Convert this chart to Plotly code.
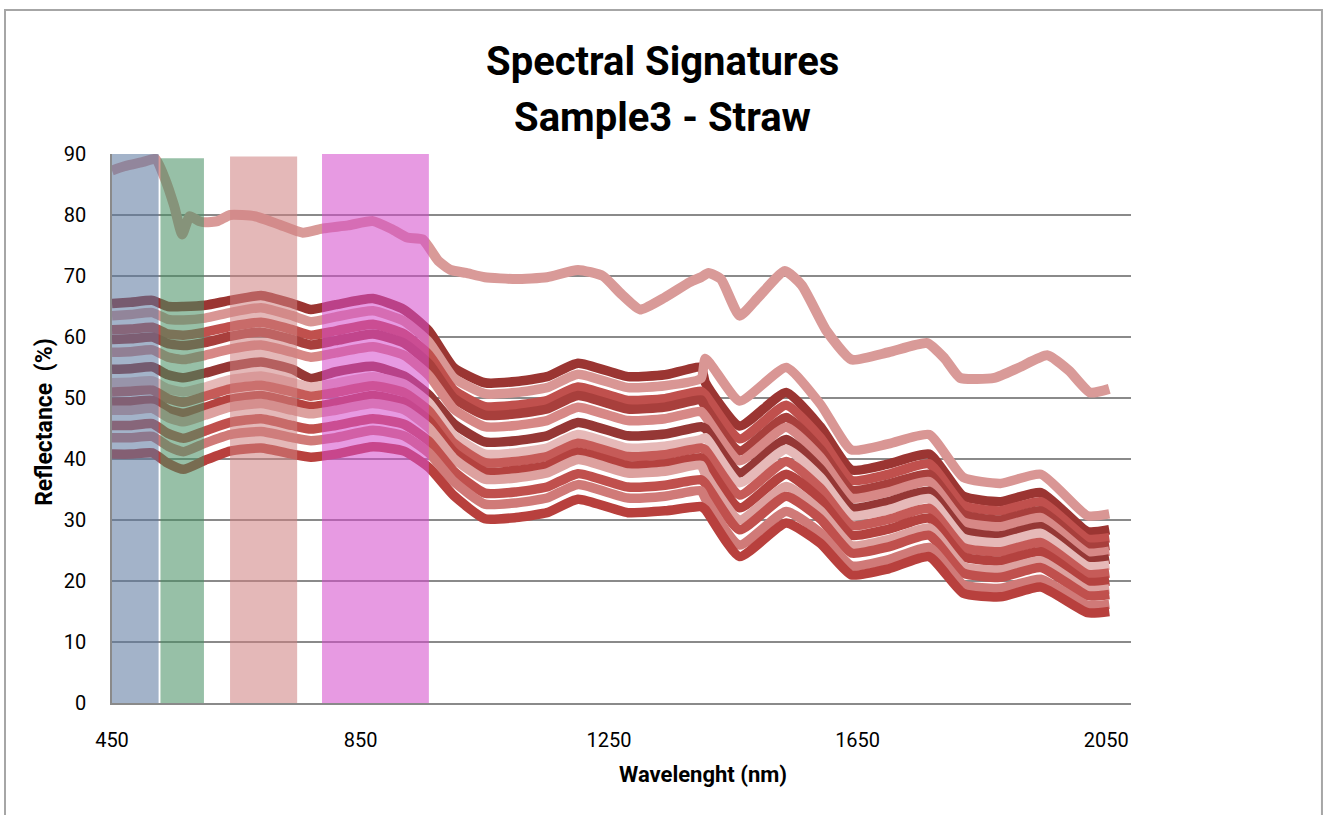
import plotly.graph_objects as go

# ---------------- data ----------------
wavelength = [450, 480, 515, 540, 565, 600, 640, 690, 740, 770, 810, 870, 920, 960,
              1000, 1050, 1100, 1150, 1200, 1280, 1340, 1398,
              1405, 1460, 1535, 1590, 1640, 1700, 1765, 1820, 1880, 1945, 2020, 2055]

s01 = [65.5, 65.7, 66.0, 65.0, 65.0, 65.2, 66.0, 66.8, 65.5, 64.5, 65.3, 66.3, 64.5, 61.0,
       55.0, 52.5, 52.7, 53.5, 55.7, 53.5, 53.8, 55.0,
       52.5, 45.4, 50.9, 45.3, 38.2, 39.2, 40.8, 33.9, 33.0, 34.5, 28.1, 28.4]
s02 = [63.5, 63.7, 64.0, 62.9, 62.8, 63.1, 64.0, 64.8, 63.5, 62.5, 63.3, 64.3, 62.6, 59.2,
       53.3, 50.7, 50.9, 51.7, 53.9, 51.7, 52.0, 53.2,
       56.5, 49.5, 55.0, 49.0, 41.5, 42.5, 44.0, 37.0, 36.0, 37.5, 30.7, 31.0]
s03 = [61.2, 61.3, 61.6, 60.5, 60.3, 60.8, 61.7, 62.4, 61.2, 60.3, 61.0, 62.1, 60.5, 57.1,
       51.3, 48.6, 48.8, 49.6, 51.8, 49.6, 49.9, 51.1,
       50.5, 43.3, 48.8, 43.5, 36.5, 37.5, 39.2, 32.4, 31.5, 33.0, 26.9, 27.1]
s04 = [59.6, 59.7, 60.0, 58.9, 58.6, 59.1, 60.1, 60.8, 59.6, 58.7, 59.4, 60.5, 59.0, 55.6,
       50.0, 47.2, 47.4, 48.2, 50.4, 48.2, 48.5, 49.7,
       48.5, 41.3, 46.8, 41.6, 34.9, 35.9, 37.5, 30.9, 30.0, 31.5, 25.6, 25.8]
s05 = [57.5, 57.6, 57.9, 56.7, 56.3, 57.0, 58.0, 58.7, 57.5, 56.7, 57.4, 58.4, 57.0, 53.7,
       48.2, 45.3, 45.5, 46.3, 48.5, 46.3, 46.6, 47.8,
       47.0, 39.7, 45.2, 40.3, 33.6, 34.6, 36.3, 29.7, 28.9, 30.4, 24.6, 24.9]
s06 = [54.7, 54.8, 55.1, 53.8, 53.3, 54.1, 55.2, 55.9, 54.7, 53.2, 54.3, 55.2, 53.6, 50.5,
       45.8, 42.8, 43.0, 43.8, 46.0, 43.8, 44.1, 45.3,
       45.0, 37.7, 43.2, 38.4, 32.0, 33.0, 34.7, 28.2, 27.4, 28.9, 23.3, 23.6]
s07 = [52.5, 52.6, 52.8, 51.5, 51.0, 51.8, 53.0, 53.6, 52.5, 51.8, 52.4, 53.5, 52.3, 49.2,
       43.9, 40.8, 41.0, 41.8, 44.0, 41.8, 42.1, 43.2,
       43.5, 36.1, 41.6, 37.0, 30.7, 31.7, 33.5, 27.0, 26.3, 27.8, 22.4, 22.6]
s08 = [51.0, 51.1, 51.3, 49.9, 49.3, 50.3, 51.5, 52.1, 51.0, 50.3, 50.9, 52.0, 50.9, 47.9,
       42.6, 39.4, 39.6, 40.4, 42.6, 40.4, 40.7, 41.8,
       41.5, 34.1, 39.6, 35.2, 29.1, 30.1, 31.9, 25.5, 24.8, 26.3, 21.1, 21.3]
s09 = [49.3, 49.4, 49.6, 48.1, 47.5, 48.5, 49.8, 50.4, 49.3, 48.6, 49.2, 50.4, 49.3, 46.3,
       41.2, 37.9, 38.1, 38.9, 41.1, 38.9, 39.2, 40.2,
       39.5, 32.0, 37.5, 33.4, 27.5, 28.5, 30.3, 24.0, 23.3, 24.8, 19.8, 20.0]
s10 = [48.0, 48.0, 48.3, 46.8, 46.1, 47.2, 48.5, 49.1, 48.0, 47.4, 48.0, 49.1, 48.1, 45.1,
       40.1, 36.7, 36.9, 37.7, 39.9, 37.7, 38.0, 39.0,
       37.5, 30.0, 35.5, 31.5, 25.8, 26.8, 28.7, 22.4, 21.8, 23.3, 18.5, 18.7]
s11 = [45.5, 45.5, 45.8, 44.2, 43.4, 44.6, 46.0, 46.6, 45.5, 44.9, 45.5, 46.6, 45.7, 42.9,
       38.0, 34.4, 34.6, 35.4, 37.6, 35.4, 35.7, 36.6,
       36.0, 28.4, 33.9, 30.2, 24.6, 25.6, 27.5, 21.3, 20.6, 22.2, 17.6, 17.8]
s12 = [43.5, 43.5, 43.7, 42.1, 41.2, 42.6, 44.0, 44.5, 43.5, 43.0, 43.5, 44.7, 43.8, 41.0,
       36.3, 32.6, 32.8, 33.6, 35.8, 33.6, 33.9, 34.8,
       33.5, 25.9, 31.4, 27.9, 22.5, 23.5, 25.5, 19.4, 18.8, 20.3, 16.0, 16.2]
s13 = [40.8, 40.8, 41.0, 39.3, 38.3, 39.8, 41.3, 41.8, 40.8, 40.3, 40.8, 42.0, 41.3, 38.6,
       34.0, 30.2, 30.4, 31.2, 33.4, 31.2, 31.5, 32.2,
       31.7, 24.0, 29.5, 26.2, 21.0, 22.0, 24.0, 18.0, 17.4, 19.0, 14.8, 15.0]

wavelength_top = [450, 470, 500, 520, 535, 550, 563, 575, 590, 600,
                  620, 640, 680, 720, 757, 790, 830, 870, 900, 925,
                  950, 975, 995, 1020, 1050, 1100, 1150, 1200, 1240, 1270,
                  1300, 1340, 1380, 1398, 1410, 1430, 1460, 1490, 1533, 1560,
                  1600, 1640, 1700, 1762, 1790, 1815, 1870, 1910, 1955, 1990,
                  2024, 2055]
s_top = [87.3, 88.0, 88.7, 89.2, 86.0, 81.5, 76.8, 79.8, 79.0, 78.8,
         79.0, 80.0, 79.8, 78.4, 77.1, 77.8, 78.3, 79.0, 77.7, 76.3,
         76.0, 72.5, 71.0, 70.5, 69.8, 69.5, 69.8, 71.0, 70.0, 67.0,
         64.5, 66.5, 69.0, 69.8, 70.5, 69.5, 63.5, 66.5, 70.8, 68.5,
         61.0, 56.3, 57.5, 59.0, 56.5, 53.3, 53.3, 55.0, 57.0, 54.5,
         50.9, 51.5]

series = [s01, s02, s03, s04, s05, s06, s07, s08, s09, s10, s11, s12, s13]
colors = ["#9b3532", "#d99694", "#c0504d", "#a83f3c", "#d78886", "#953735", "#e6b9b8",
          "#c65b58", "#b4423f", "#dda19f", "#c0504d", "#d07a78", "#b8403d"]

# spectral bands (nm)
band_start = [450, 528, 640, 788]
band_end = [525, 598, 748, 960]
band_top = [90, 89.3, 89.6, 90]
band_bottom = [0, -0.3, 0, -0.3]
band_colors = ["rgb(91,119,159)", "rgb(69,143,98)", "rgb(207,128,128)", "rgb(212,75,203)"]

x_ticks = [450, 850, 1250, 1650, 2050]
y_ticks = [0, 10, 20, 30, 40, 50, 60, 70, 80, 90]

title_lines = ["Spectral Signatures", "Sample3 - Straw"]
x_title = "Wavelenght (nm)"
y_title = "Reflectance  (%)"

FONT = "Roboto, Lato, Arial, sans-serif"

# ---------------- figure ----------------
fig = go.Figure()

fig.add_trace(go.Scatter(x=wavelength_top, y=s_top, mode="lines",
                         line=dict(color="#d99a98", width=10, shape="spline", smoothing=0.5),
                         hoverinfo="skip", showlegend=False))

for ys, c in zip(series, colors):
    fig.add_trace(go.Scatter(x=wavelength, y=ys, mode="lines",
                             line=dict(color=c, width=9.5, shape="spline", smoothing=0.5),
                             hoverinfo="skip", showlegend=False))

for x0, x1, y0, y1, c in zip(band_start, band_end, band_bottom, band_top, band_colors):
    fig.add_shape(type="rect", xref="x", yref="y", x0=x0, x1=x1, y0=y0, y1=y1,
                  fillcolor=c, opacity=0.56, line=dict(width=0), layer="above")

# outer chart frame
fig.add_shape(type="rect", xref="paper", yref="paper",
              x0=-0.105, x1=1.1874, y0=-0.25, y1=1.2623,
              line=dict(color="#a6a6a6", width=2), fillcolor="rgba(0,0,0,0)", layer="below")

# titles (positioned as in the reference)
fig.add_annotation(text="<b>%s</b>" % title_lines[0], xref="paper", yref="paper",
                   x=0.5407, y=1.1676, showarrow=False, xanchor="center", yanchor="middle",
                   font=dict(family=FONT, size=40, color="black"))
fig.add_annotation(text="<b>%s</b>" % title_lines[1], xref="paper", yref="paper",
                   x=0.5407, y=1.0656, showarrow=False, xanchor="center", yanchor="middle",
                   font=dict(family=FONT, size=40, color="black"))
fig.add_annotation(text="<b>%s</b>" % x_title, xref="paper", yref="paper",
                   x=0.58, y=-0.131, showarrow=False, xanchor="center", yanchor="middle",
                   font=dict(family=FONT, size=22, color="black"))
fig.add_annotation(text="<b>%s</b>" % y_title, xref="paper", yref="paper",
                   x=-0.0658, y=0.512, showarrow=False, xanchor="center", yanchor="middle",
                   textangle=-90, font=dict(family=FONT, size=23, color="black"))

fig.update_layout(
    width=1326, height=815,
    margin=dict(l=112, r=195, t=154, b=112),
    paper_bgcolor="white", plot_bgcolor="white",
    font=dict(family=FONT, color="black"),
    showlegend=False,
    hovermode=False,
)

fig.update_xaxes(range=[450, 2090], tickvals=x_ticks, ticktext=[str(v) for v in x_ticks],
                 showgrid=False, zeroline=False, showline=True, linecolor="#8a8a8a", linewidth=1.5,
                 ticks="", ticklabelstandoff=18,
                 tickfont=dict(size=20, family=FONT, color="black"))
fig.update_yaxes(range=[0, 90], tickvals=y_ticks, showgrid=True, gridcolor="#8a8a8a", gridwidth=1.5,
                 zeroline=False, showline=True, linecolor="#8a8a8a", linewidth=1.5,
                 ticks="", ticklabelstandoff=20,
                 tickfont=dict(size=20, family=FONT, color="black"))

fig.write_html("out.html")
